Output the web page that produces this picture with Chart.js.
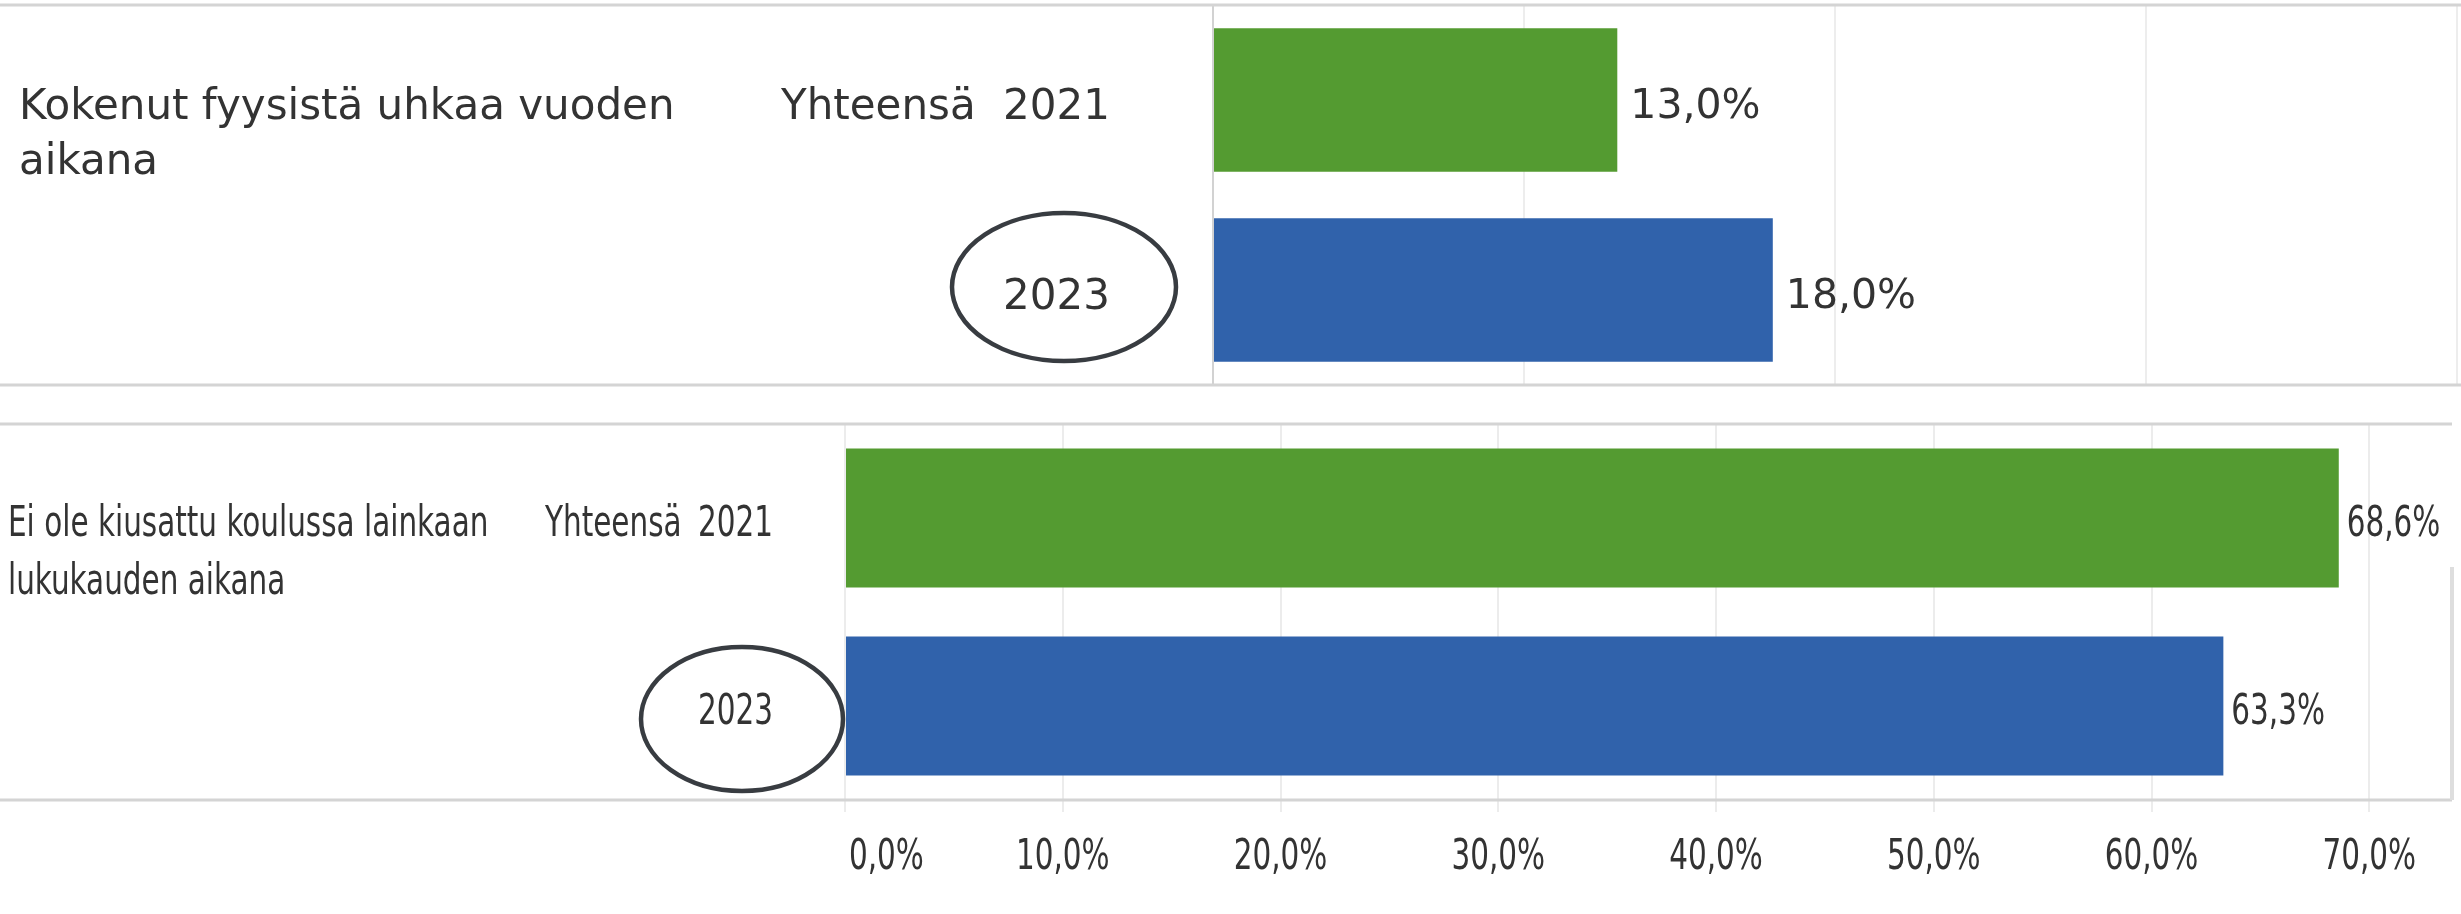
<!DOCTYPE html>
<html lang="fi">
<head>
<meta charset="utf-8">
<title>Kokenut fyysistä uhkaa / Ei ole kiusattu</title>
<script src="https://cdn.jsdelivr.net/npm/chart.js@4.4.1/dist/chart.umd.min.js"></script>
<style>
  html, body { margin: 0; padding: 0; background: #fff; }
  #wrap { position: relative; width: 2461px; height: 914px; overflow: hidden; }
  canvas { position: absolute; left: 0; }
  #uhka { top: 0; }
  #kiusattu { top: 400px; }
</style>
</head>
<body>
<div id="wrap">
  <canvas id="uhka" width="2461" height="400"></canvas>
  <canvas id="kiusattu" width="2461" height="514"></canvas>
</div>
<script>
"use strict";

const years = ['2021', '2023'];
const group_label = 'Yhteensä';
const bar_colors = ['#549b31', '#3062ab'];

const uhka_question = ['Kokenut fyysistä uhkaa vuoden', 'aikana'];
const uhka_values = [13.0, 18.0];
const uhka_ticks = [0, 10, 20, 30, 40];

const kiusattu_question = ['Ei ole kiusattu koulussa lainkaan', 'lukukauden aikana'];
const kiusattu_values = [68.6, 63.3];
const kiusattu_ticks = [0, 10, 20, 30, 40, 50, 60, 70];

const wide_font = '"DejaVu Sans", sans-serif';
const narrow_font = '"DejaVu Sans Condensed", "DejaVu Sans", sans-serif';
const text_color = '#333333';

function fmt(v) {
  return v.toFixed(1).replace('.', ',') + '%';
}

// fillText with a horizontal squeeze (the lower panel uses a narrow face)
function put_text(ctx, text, x, y, align, sx) {
  ctx.save();
  ctx.translate(x, y);
  ctx.scale(sx, 1);
  ctx.textAlign = align;
  ctx.fillText(text, 0, 0);
  ctx.restore();
}

function no_pad(s) {
  s.paddingTop = 0;
  s.paddingBottom = 0;
  s.paddingLeft = 0;
  s.paddingRight = 0;
}

/* --- value labels next to bars --- */

const value_labels = {
  id: 'value_labels',
  afterDatasetsDraw(chart, args, opts) {
    const ctx = chart.ctx;
    const data = chart.data.datasets[0].data;
    ctx.save();
    ctx.font = opts.font;
    ctx.fillStyle = text_color;
    ctx.textBaseline = 'middle';
    chart.getDatasetMeta(0).data.forEach((bar, i) => {
      put_text(ctx, fmt(data[i]), bar.x + opts.gap, bar.y + opts.dy, 'left', opts.sx);
    });
    ctx.restore();
  }
};

/* --- row headers, year labels, axis labels, pane borders, ring round 2023 --- */

const row_headers = {
  id: 'row_headers',
  afterDraw(chart, args, opts) {
    const ctx = chart.ctx;
    const area = chart.chartArea;
    const y_scale = chart.scales.y;
    const x_scale = chart.scales.x;
    const y_first = y_scale.getPixelForValue(0);
    const y_last = y_scale.getPixelForValue(1);
    const right = opts.border_to || chart.width;

    ctx.save();
    ctx.strokeStyle = '#d4d4d4';
    ctx.lineWidth = 3;
    ctx.beginPath();
    ctx.moveTo(0, area.top);
    ctx.lineTo(right, area.top);
    ctx.moveTo(0, area.bottom);
    ctx.lineTo(right, area.bottom);
    ctx.stroke();

    if (opts.edge_from) {
      ctx.strokeStyle = '#dedede';
      ctx.lineWidth = 4;
      ctx.beginPath();
      ctx.moveTo(area.right, opts.edge_from);
      ctx.lineTo(area.right, area.bottom);
      ctx.stroke();
    }

    ctx.font = opts.font;
    ctx.fillStyle = text_color;
    ctx.textBaseline = 'middle';
    opts.question.forEach((line, i) => {
      put_text(ctx, line, opts.question_x, y_first + opts.text_dy + i * opts.line_height, 'left', opts.sx);
    });
    put_text(ctx, group_label, opts.group_x, y_first + opts.text_dy, 'left', opts.sx);

    chart.data.labels.forEach((yr, i) => {
      put_text(ctx, yr, area.left - opts.year_gap, y_scale.getPixelForValue(i) + opts.text_dy, 'right', opts.sx);
    });

    if (opts.x_ticks) {
      opts.x_ticks.forEach((v, i) => {
        const px = x_scale.getPixelForValue(v);
        put_text(ctx, fmt(v), i === 0 ? px + 4 : px, area.bottom + opts.x_label_dy, i === 0 ? 'left' : 'center', opts.sx);
      });
    }

    ctx.strokeStyle = '#383c41';
    ctx.lineWidth = 4.5;
    ctx.beginPath();
    ctx.ellipse(area.left + opts.ring.dx, y_last + opts.ring.dy, opts.ring.rx, opts.ring.ry, 0, 0, Math.PI * 2);
    ctx.stroke();
    ctx.restore();
  }
};

/* --- TOP: KOKENUT FYYSISTÄ UHKAA --- */

const uhka_chart = new Chart(document.getElementById('uhka'), {
  type: 'bar',
  data: {
    labels: years,
    datasets: [{
      data: uhka_values,
      backgroundColor: bar_colors,
      barPercentage: 0.755,
      categoryPercentage: 1
    }]
  },
  options: {
    indexAxis: 'y',
    responsive: false,
    animation: false,
    layout: { padding: { top: 5, right: 4, bottom: 15, left: 0 } },
    plugins: {
      legend: { display: false },
      tooltip: { enabled: false },
      value_labels: { font: '41px ' + wide_font, gap: 13, dy: 7, sx: 1 },
      row_headers: {
        font: '42px ' + wide_font,
        sx: 1,
        question: uhka_question,
        question_x: 19,
        group_x: 781,
        year_gap: 103,
        text_dy: 8,
        line_height: 55,
        ring: { dx: -149, dy: -3, rx: 112, ry: 74 }
      }
    },
    scales: {
      x: {
        min: 0,
        max: 40,
        afterBuildTicks: s => { s.ticks = uhka_ticks.map(v => ({ value: v })); },
        ticks: { display: false },
        grid: { color: '#ededed', lineWidth: 2, drawTicks: false },
        border: { display: false },
        afterFit: s => { s.height = 0; no_pad(s); }
      },
      y: {
        afterFit: s => { s.width = 1213; no_pad(s); },
        ticks: { display: false },
        grid: { display: false, drawTicks: false },
        border: { display: true, color: '#d2d2d2', width: 2 }
      }
    }
  },
  plugins: [value_labels, row_headers]
});

/* --- BOTTOM: EI OLE KIUSATTU --- */

const kiusattu_chart = new Chart(document.getElementById('kiusattu'), {
  type: 'bar',
  data: {
    labels: years,
    datasets: [{
      data: kiusattu_values,
      backgroundColor: bar_colors,
      barPercentage: 0.74,
      categoryPercentage: 1
    }]
  },
  options: {
    indexAxis: 'y',
    responsive: false,
    animation: false,
    layout: { padding: { top: 24, right: 9, bottom: 0, left: 0 } },
    plugins: {
      legend: { display: false },
      tooltip: { enabled: false },
      value_labels: { font: '42px ' + narrow_font, gap: 8, dy: 7, sx: 0.78 },
      row_headers: {
        font: '42px ' + narrow_font,
        sx: 0.78,
        question: kiusattu_question,
        question_x: 8,
        group_x: 545,
        year_gap: 72,
        text_dy: 7,
        line_height: 58,
        border_to: 2452,
        edge_from: 167,
        x_ticks: kiusattu_ticks,
        x_label_dy: 58,
        ring: { dx: -103, dy: 13, rx: 101, ry: 72 }
      }
    },
    scales: {
      x: {
        min: 0,
        max: 73.8,
        afterBuildTicks: s => { s.ticks = kiusattu_ticks.map(v => ({ value: v })); },
        afterFit: s => { s.height = 114; no_pad(s); },
        ticks: { display: false },
        grid: { color: '#ececec', lineWidth: 2, drawTicks: true, tickLength: 12 },
        border: { display: false }
      },
      y: {
        afterFit: s => { s.width = 845; no_pad(s); },
        ticks: { display: false },
        grid: { display: false, drawTicks: false },
        border: { display: false }
      }
    }
  },
  plugins: [value_labels, row_headers]
});
</script>
</body>
</html>
